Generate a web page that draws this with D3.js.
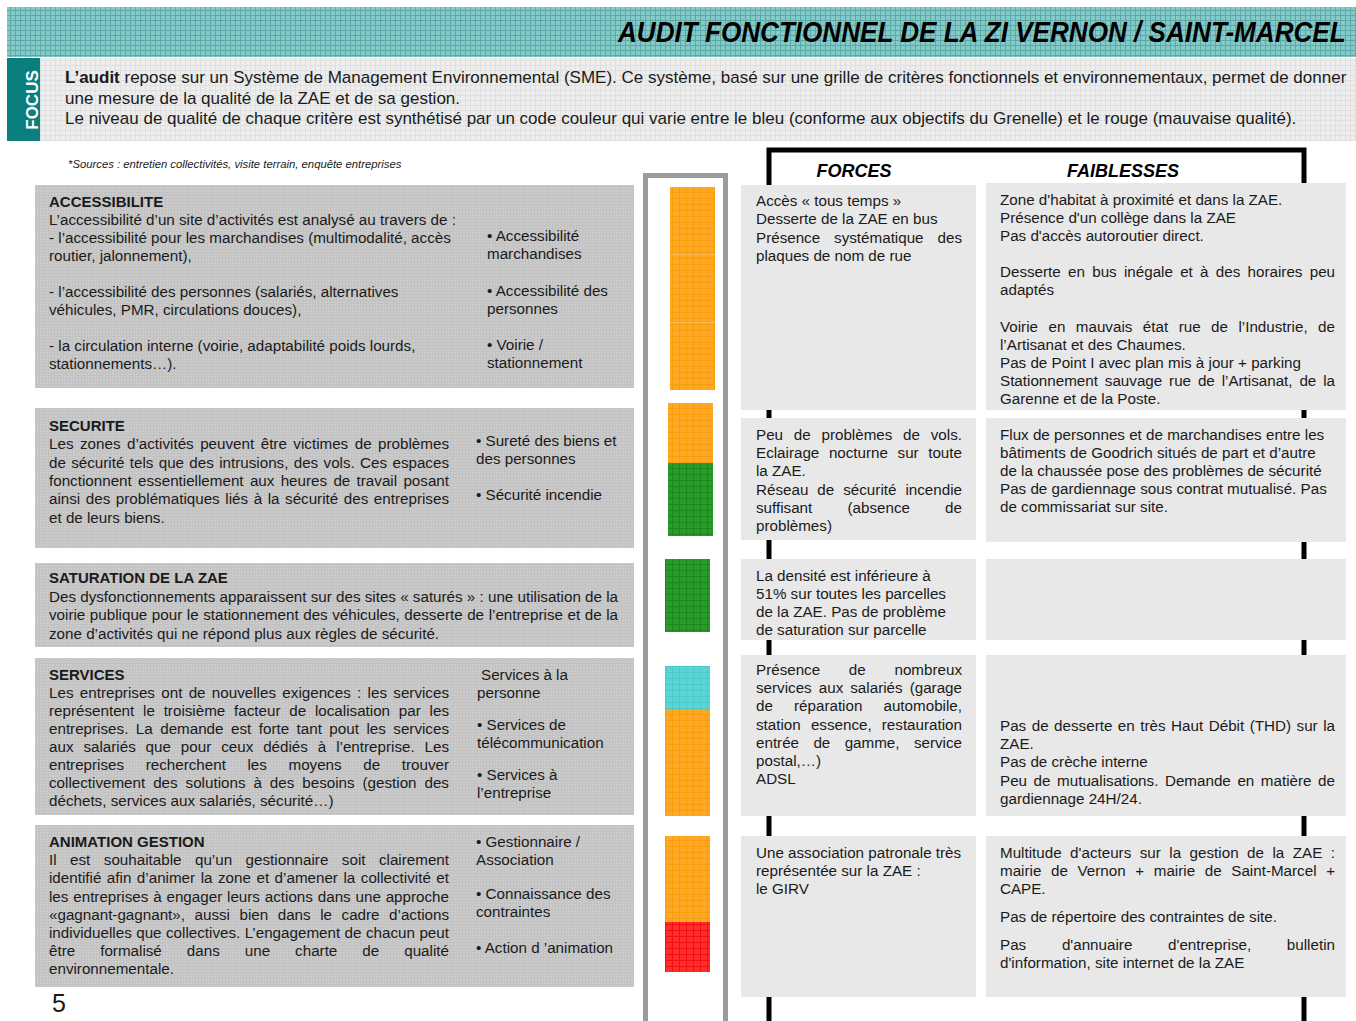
<!DOCTYPE html>
<html><head><meta charset="utf-8">
<script src="https://cdn.jsdelivr.net/npm/d3@7"></script>
<style>
body{margin:0;background:#fff}
svg{display:block}
text{font-family:"Liberation Sans",Arial,Helvetica,sans-serif;fill:#1a1a1a}
</style>
</head><body>
<svg id="c" width="1356" height="1021"></svg>
<script>
// ---------------- DATA ----------------
const pageTitle = "AUDIT FONCTIONNEL DE LA ZI VERNON / SAINT-MARCEL";
const focusLabel = "FOCUS";
const focusLines = [
  ["L’audit", " repose sur un Système de Management Environnemental (SME). Ce système, basé sur une grille de critères fonctionnels et environnementaux, permet de donner"],
  ["", "une mesure de la qualité de la ZAE et de sa gestion."],
  ["", "Le niveau de qualité de chaque critère est synthétisé par un code couleur qui varie entre le bleu (conforme aux objectifs du Grenelle) et le rouge (mauvaise qualité)."]
];
const sourcesNote = "*Sources : entretien collectivités, visite terrain, enquête entreprises";
const columnHeaders = ["FORCES", "FAIBLESSES"];
const pageNumber = "5";

const themes = ["ACCESSIBILITE", "SECURITE", "SATURATION DE LA ZAE", "SERVICES", "ANIMATION GESTION"];

// "|" at the start of a line = justified line, "" = blank line
const themeTexts = [
  ["L’accessibilité d’un site d’activités est analysé au travers de :",
   "- l’accessibilité pour les marchandises (multimodalité, accès",
   "routier, jalonnement),", "",
   "- l’accessibilité des personnes (salariés, alternatives",
   "véhicules,  PMR, circulations douces),", "",
   "- la circulation interne (voirie, adaptabilité poids lourds,",
   "stationnements…)."],
  ["|Les zones d’activités peuvent être victimes de problèmes",
   "|de sécurité tels que des intrusions, des vols. Ces espaces",
   "|fonctionnent essentiellement aux heures de travail posant",
   "|ainsi des problématiques liés à la sécurité des entreprises",
   "et de leurs biens."],
  ["|Des dysfonctionnements apparaissent sur des sites « saturés » : une utilisation de la",
   "|voirie publique pour le stationnement des véhicules, desserte de l’entreprise et de la",
   "zone d’activités qui ne répond plus aux règles de sécurité."],
  ["|Les entreprises ont de nouvelles exigences : les services",
   "|représentent le troisième facteur de localisation par les",
   "|entreprises. La demande est forte tant pout les services",
   "|aux salariés que pour ceux dédiés à l’entreprise. Les",
   "|entreprises recherchent les moyens de trouver",
   "|collectivement des solutions à des besoins (gestion des",
   "déchets, services aux salariés, sécurité…)"],
  ["|Il est souhaitable qu’un gestionnaire soit clairement",
   "|identifié afin d’animer la zone et d’amener la collectivité et",
   "|les entreprises à engager leurs actions dans une approche",
   "|«gagnant-gagnant», aussi bien dans le cadre d’actions",
   "|individuelles que collectives. L’engagement de chacun peut",
   "|être formalisé dans une charte de qualité",
   "environnementale."]
];

// criteria (one colour segment each)
const criteriaTheme = [0, 0, 0, 1, 1, 2, 3, 3, 3, 4, 4, 4];
const criteriaLabels = [
  ["• Accessibilité", "marchandises"],
  ["• Accessibilité des", "personnes"],
  ["• Voirie /", "stationnement"],
  ["• Sureté des biens et", "des personnes"],
  ["• Sécurité incendie"],
  [],
  [" Services à la", "personne"],
  ["• Services de", "télécommunication"],
  ["• Services à", "l’entreprise"],
  ["• Gestionnaire /", "Association"],
  ["• Connaissance des", "contraintes"],
  ["• Action d ’animation"]
];
const criteriaLevel = ["orange", "orange", "orange", "orange", "vert", "vert", "bleu", "orange", "orange", "orange", "orange", "rouge"];
const levels = ["bleu", "vert", "orange", "rouge"];

const forces = [
  ["Accès « tous temps »", "Desserte de la ZAE en bus", "|Présence systématique des", "plaques de nom de rue"],
  ["|Peu de problèmes de vols.", "|Eclairage nocturne sur toute", "la ZAE.", "|Réseau de sécurité incendie", "|suffisant (absence de", "problèmes)"],
  ["La densité est inférieure à", "51% sur toutes les parcelles", "de la ZAE. Pas de problème", "de saturation sur parcelle"],
  ["|Présence de nombreux", "|services aux salariés (garage", "|de réparation automobile,", "|station essence, restauration", "|entrée de gamme, service", "postal,…)", "ADSL"],
  ["Une association patronale très", "représentée sur la ZAE :", "le GIRV"]
];
const faiblesses = [
  ["Zone d'habitat à proximité et dans la ZAE.", "Présence d'un collège dans la ZAE", "Pas d'accès autoroutier direct.", "",
   "|Desserte en bus inégale et à des horaires peu", "adaptés", "",
   "|Voirie en mauvais état rue de l’Industrie, de", "l’Artisanat et des Chaumes.",
   "Pas de Point I avec plan mis à jour + parking",
   "|Stationnement sauvage rue de l’Artisanat, de la", "Garenne et de la Poste."],
  ["Flux de personnes et de marchandises entre les", "bâtiments de Goodrich situés de part et d’autre",
   "de la chaussée pose des problèmes de sécurité", "Pas de gardiennage sous contrat mutualisé. Pas", "de commissariat sur site."],
  [],
  ["|Pas de desserte en très Haut Débit (THD) sur la", "ZAE.", "Pas de crèche interne",
   "|Peu de mutualisations. Demande en matière de", "gardiennage 24H/24."],
  ["|Multitude d'acteurs sur la gestion de la ZAE :", "|mairie de Vernon + mairie de Saint-Marcel +", "CAPE.", "",
   "Pas de répertoire des contraintes de site.", "",
   "|Pas d'annuaire d'entreprise, bulletin", "d'information, site internet de la ZAE"]
];

// ---------------- LAYOUT ----------------
const W = 1356, H = 1021;
const FS = 15.2;
const L = {
  themeBox: [[185, 388, 207], [408, 548, 431], [563, 647, 583], [658, 815, 680], [825, 987, 847]],
  themeLH: [18, 18.3, 18.5, 18, 18.2],
  themeRight: [449, 449, 618, 449, 449],
  critX: [487, 487, 487, 476, 476, 0, 477, 477, 477, 476, 476, 476],
  critY: [241, 296, 350, 446, 500, 0, 680, 730, 780, 847, 899, 953],
  bars: [[670, 187, 390], [668, 403, 536], [665, 559, 632], [665, 666, 816], [665, 836, 972]],
  barW: 45,
  segWeight: [1, 1, 1, 60, 73, 1, 44, 53, 53, 43, 43, 50],
  fBox: [[185, 410, 206], [418, 540, 440], [559, 640, 581], [655, 816, 675], [836, 997, 858]],
  wBox: [[183, 410, 205], [418, 542, 440], [559, 640, 0], [655, 816, 731], [836, 997, 858]],
  fLH: [18.3, 18.2, 18, 18.2, 18],
  wLH: [18.1, 18, 18, 18.2, 18],
  wBlank: [18, 18, 18, 18, 10]
};

const levelColor = d3.scaleOrdinal().domain(levels).range(["#5cd4d6", "#2a9b2a", "#ffa826", "#ff2d2d"]);
const levelLine = d3.scaleOrdinal().domain(levels).range(["#3fc6c8", "#127e12", "#f59800", "#e80000"]);

const svg = d3.select("#c");
const defs = svg.append("defs");

function gridPattern(id, w, h, bg, line, op) {
  const p = defs.append("pattern").attr("id", id).attr("patternUnits", "userSpaceOnUse").attr("width", w).attr("height", h);
  p.append("rect").attr("width", w).attr("height", h).attr("fill", bg);
  p.append("path").attr("d", `M0,0.5H${w}M0.5,0V${h}`).attr("stroke", line).attr("stroke-width", 1).attr("opacity", op);
}
gridPattern("teal", 5, 5, "#86c9c9", "#4fa3a3", 0.8);
gridPattern("focusbg", 5, 5, "#ededed", "#e0e0e0", 1);
gridPattern("gray", 3, 3, "#cbcbcb", "#bdbdbd", 0.7);
levels.forEach(l => gridPattern("lv-" + l, 7, 6, levelColor(l), levelLine(l), 0.65));

// ---------------- HEADER ----------------
svg.append("rect").attr("x", 7).attr("y", 7).attr("width", W - 7).attr("height", 50).attr("fill", "url(#teal)");
const titleG = svg.append("g");
const titleT = titleG.append("text").attr("x", 0).attr("y", 0)
  .attr("font-size", 29).attr("font-weight", "bold").attr("font-style", "italic").style("fill", "#000").text(pageTitle);
const tLen = titleT.node().getComputedTextLength();
titleG.attr("transform", `translate(618,42) scale(${(728 / tLen).toFixed(4)},1)`);

svg.append("rect").attr("x", 40).attr("y", 58).attr("width", W - 40).attr("height", 83).attr("fill", "url(#focusbg)");
svg.append("rect").attr("x", 7).attr("y", 58).attr("width", 33).attr("height", 83).attr("fill", "#0b7e7e");
svg.append("text").attr("transform", "translate(38,100) rotate(-90)").attr("text-anchor", "middle")
  .attr("font-size", 17).attr("font-weight", "bold").style("fill", "#fff").text(focusLabel);

focusLines.forEach((ln, i) => {
  const t = svg.append("text").attr("x", 65).attr("y", 83 + i * 20.7).attr("font-size", 17);
  if (ln[0]) t.append("tspan").attr("font-weight", "bold").text(ln[0]);
  t.append("tspan").text(ln[1]);
});

svg.append("text").attr("x", 68).attr("y", 168).attr("font-size", 11.3).attr("font-style", "italic").text(sourcesNote);

// ---------------- helpers ----------------
function drawLines(g, lines, x, y0, lh, right, size, blank) {
  let y = y0;
  lines.forEach(l => {
    if (l === "") { y += (blank ?? lh); return; }
    const just = l.startsWith("|");
    const s = just ? l.slice(1) : l;
    const t = g.append("text").attr("x", x).attr("y", y).attr("font-size", size).text(s);
    if (just) {
      const len = t.node().getComputedTextLength();
      const spaces = (s.match(/ /g) || []).length;
      if (spaces > 0 && len < right - x) t.attr("word-spacing", ((right - x - len) / spaces).toFixed(2));
    }
    y += lh;
  });
}

// ---------------- LEFT THEME BOXES ----------------
const left = svg.append("g");
themes.forEach((th, i) => {
  const [y0, y1, ty] = L.themeBox[i];
  left.append("rect").attr("x", 35).attr("y", y0).attr("width", 599).attr("height", y1 - y0).attr("fill", "url(#gray)");
  left.append("text").attr("x", 49).attr("y", ty).attr("font-size", 15).attr("font-weight", "bold").text(th);
  drawLines(left, themeTexts[i], 49, ty + L.themeLH[i], L.themeLH[i], L.themeRight[i], FS);
});
criteriaLabels.forEach((lab, i) => {
  lab.forEach((s, k) => {
    left.append("text").attr("x", L.critX[i] + (s.startsWith(" ") ? 4 : 0)).attr("y", L.critY[i] + k * 18).attr("font-size", FS).text(s.trim());
  });
});

// ---------------- COLOUR COLUMN ----------------
const frame = svg.append("g").attr("fill", "none").attr("stroke", "#9b9b9b").attr("stroke-width", 5);
frame.append("path").attr("d", `M645.5,${H}V175.5H725.5V${H}`);

themes.forEach((th, gi) => {
  const idx = criteriaTheme.map((t, i) => t === gi ? i : -1).filter(i => i >= 0);
  const total = d3.sum(idx, i => L.segWeight[i]);
  const [bx, by0, by1] = L.bars[gi];
  const y = d3.scaleLinear().domain([0, total]).range([by0, by1]);
  let acc = 0;
  idx.forEach(i => {
    const a = acc; acc += L.segWeight[i];
    svg.append("rect").attr("x", bx).attr("y", y(a)).attr("width", L.barW).attr("height", y(acc) - y(a))
      .attr("fill", `url(#lv-${criteriaLevel[i]})`);
  });
});

// ---------------- FORCES / FAIBLESSES ----------------
const fr = svg.append("g").attr("fill", "none").attr("stroke", "#000").attr("stroke-width", 5);
fr.append("path").attr("d", `M769,${H}V150H1304V${H}`);

svg.append("text").attr("x", 854).attr("y", 177).attr("text-anchor", "middle").attr("font-size", 18)
  .attr("font-weight", "bold").attr("font-style", "italic").style("fill", "#000").text(columnHeaders[0]);
svg.append("text").attr("x", 1123).attr("y", 177).attr("text-anchor", "middle").attr("font-size", 18)
  .attr("font-weight", "bold").attr("font-style", "italic").style("fill", "#000").text(columnHeaders[1]);

const right = svg.append("g");
forces.forEach((lines, i) => {
  const [y0, y1, ty] = L.fBox[i];
  right.append("rect").attr("x", 741).attr("y", y0).attr("width", 235).attr("height", y1 - y0).attr("fill", "#e8e8e8");
  drawLines(right, lines, 756, ty, L.fLH[i], 962, FS);
});
faiblesses.forEach((lines, i) => {
  const [y0, y1, ty] = L.wBox[i];
  right.append("rect").attr("x", 986).attr("y", y0).attr("width", 360).attr("height", y1 - y0).attr("fill", "#e8e8e8");
  drawLines(right, lines, 1000, ty, L.wLH[i], 1335, FS, L.wBlank[i]);
});

svg.append("text").attr("x", 52).attr("y", 1012).attr("font-size", 25).text(pageNumber);
</script>
</body></html>
